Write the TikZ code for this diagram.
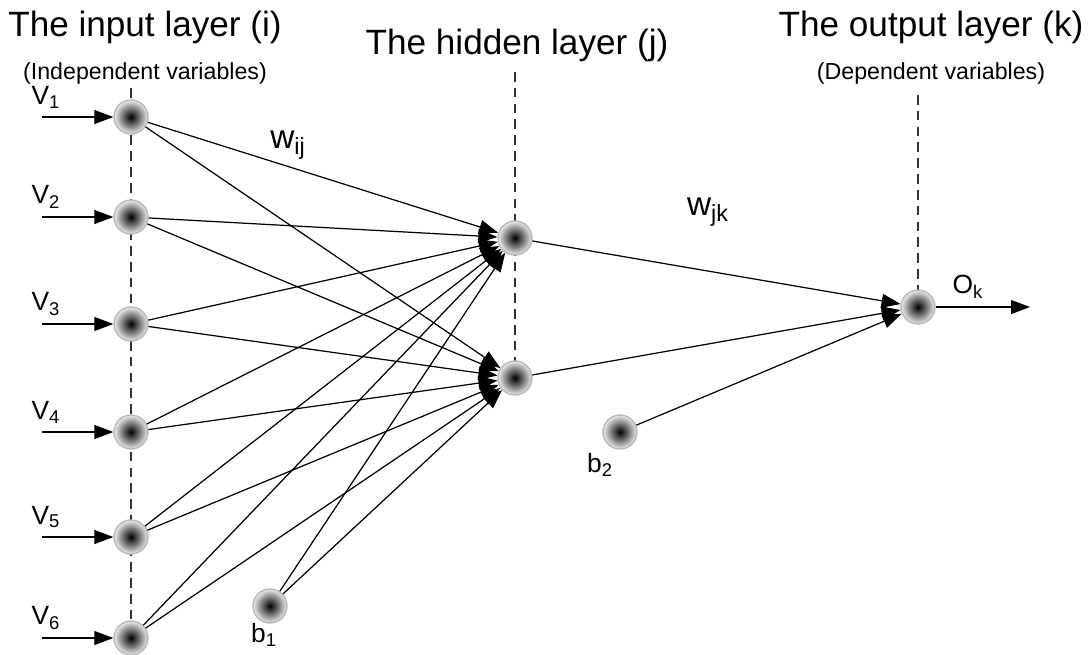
\documentclass[tikz,border=0pt]{standalone}
\usepackage{fontspec}
\setmainfont{Liberation Sans}
\usepackage{tikz}
\usetikzlibrary{arrows.meta, positioning}

\begin{document}
\begin{tikzpicture}[
  x=0.02cm, y=-0.02cm,
  neuron/.style={circle, minimum size=0.68cm, inner sep=0pt, shading=radial,
    inner color=black, outer color=gray!15, draw=gray!55, line width=0.8pt},
  arr/.style={-{Triangle[length=3.8mm, width=2.8mm]}, line width=0.7pt},
  guide/.style={dash pattern=on 5.5pt off 3.5pt, gray!40!black, line width=0.8pt},
  title/.style={font=\fontsize{20}{24}\selectfont},
  subtitle/.style={font=\fontsize{13.2}{15}\selectfont},
  lbl/.style={font=\fontsize{15}{17}\selectfont, inner sep=1pt}
]
  \useasboundingbox (0,0) rectangle (1088,654);

  % layer guides
  \draw[guide] (131,88) -- (131,654);
  \draw[guide] (515,72) -- (515,378);
  \draw[guide] (918,95) -- (918,307);

  % titles
  \node[title] at (145,27) {The input layer (i)};
  \node[subtitle] at (145,73) {(Independent variables)};
  \node[title] at (517,45) {The hidden layer (j)};
  \node[title] at (931,27) {The output layer (k)};
  \node[subtitle] at (931,73) {(Dependent variables)};

  % neurons
  \foreach \i/\y in {1/117, 2/217, 3/324, 4/432, 5/537, 6/638} {
    \node[neuron] (in\i) at (131,\y) {};
    \coordinate (src\i) at (42,\y);
    \node[lbl] at (46,\y-20) {V\textsubscript{\i}};
    \draw[arr] (src\i) -- (in\i);
  }
  \node[neuron] (h1) at (515,238) {};
  \node[neuron] (h2) at (515,378) {};
  \node[neuron] (out) at (918,307) {};
  \node[neuron] (b1) at (270,606) {};
  \node[neuron] (b2) at (620,432) {};
  \coordinate (res) at (1030,307);

  % connections
  \foreach \i in {1,...,6} {
    \draw[arr] (in\i) -- (h1);
    \draw[arr] (in\i) -- (h2);
  }
  \draw[arr] (b1) -- (h1);
  \draw[arr] (b1) -- (h2);
  \draw[arr] (h1) -- (out);
  \draw[arr] (h2) -- (out);
  \draw[arr] (b2) -- (out);
  \draw[arr] (out) -- (res);

  % weights and labels
  \node[lbl, font=\fontsize{19}{21}\selectfont] at (288,145) {w\textsubscript{ij}};
  \node[lbl, font=\fontsize{19}{21}\selectfont] at (708,212) {w\textsubscript{jk}};
  \node[lbl] at (968,287) {O\textsubscript{k}};
  \node[lbl] at (264,635) {b\textsubscript{1}};
  \node[lbl] at (600,465) {b\textsubscript{2}};
\end{tikzpicture}
\end{document}
